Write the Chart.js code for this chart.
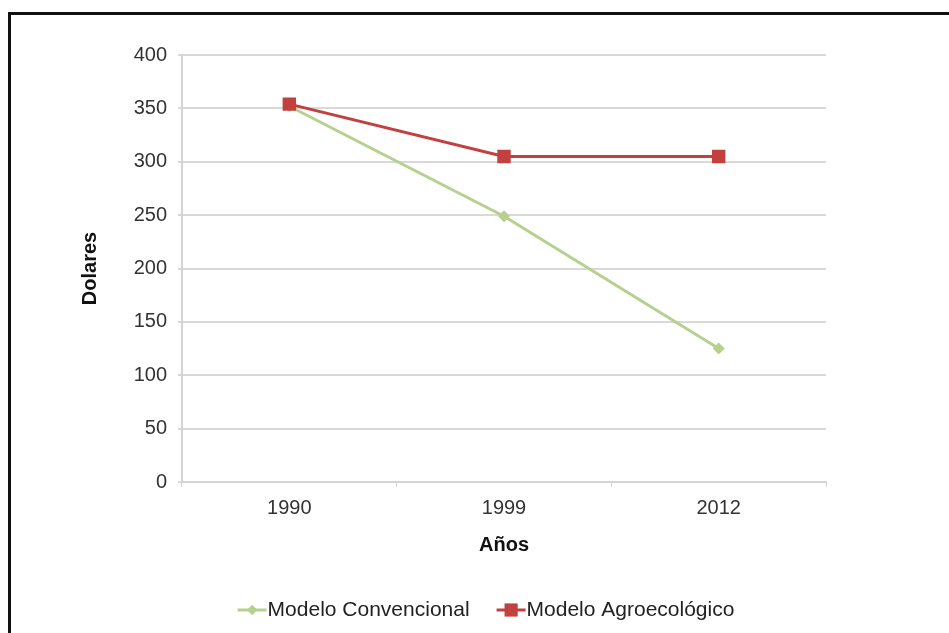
<!DOCTYPE html>
<html>
<head>
<meta charset="utf-8">
<script src="https://cdn.jsdelivr.net/npm/chart.js@4/dist/chart.umd.min.js"></script>
<style>
  html, body { margin: 0; padding: 0; background: #fff; overflow: hidden; }
  #frame {
    position: absolute; left: 8px; top: 12px; width: 960px; height: 700px;
    border-top: 3px solid #111; border-left: 3px solid #111;
  }
  #wrap { position: absolute; left: 0; top: 0; width: 949px; height: 633px; }
</style>
</head>
<body>
<div id="frame"></div>
<div id="wrap"><canvas id="chart" width="949" height="633"></canvas></div>
<script>
// Data
const years = ['1990', '1999', '2012'];
const convencional = [352, 249, 125];
const agroecologico = [354, 305, 305];
const yTicks = [0, 50, 100, 150, 200, 250, 300, 350, 400];

const GREEN = '#b7d090';
const RED = '#c2403d';
const FONT = '"Liberation Sans", Arial, sans-serif';

// Excel-style legend: short line with marker, then the label
const bottomLegend = {
    id: 'bottomLegend',
    afterDraw(chart) {
        const ctx = chart.ctx;
        const items = chart.data.datasets;
        const lineW = 29, gap = 1;
        ctx.save();
        ctx.font = '21px ' + FONT;
        const widths = items.map(d => lineW + gap + ctx.measureText(d.label).width);
        const spacing = 27;
        const total = widths.reduce((a, b) => a + b, 0) + spacing * (items.length - 1);
        let x = 486 - total / 2;
        const y = 610;
        items.forEach((d, i) => {
            ctx.strokeStyle = d.borderColor;
            ctx.lineWidth = 3;
            ctx.beginPath();
            ctx.moveTo(x, y);
            ctx.lineTo(x + lineW, y);
            ctx.stroke();
            ctx.fillStyle = d.borderColor;
            Chart.helpers.drawPoint(ctx, {
                pointStyle: d.pointStyle, radius: d.legendRadius, rotation: 0, borderWidth: 0
            }, x + lineW / 2, y);
            ctx.fill();
            ctx.fillStyle = '#222';
            ctx.textBaseline = 'middle';
            ctx.textAlign = 'left';
            ctx.fillText(d.label, x + lineW + gap, y);
            x += widths[i] + spacing;
        });
        ctx.restore();
    }
};

new Chart(document.getElementById('chart'), {
    type: 'line',
    data: {
        labels: years,
        datasets: [
            {
                label: 'Modelo Convencional',
                data: convencional,
                borderColor: GREEN,
                backgroundColor: GREEN,
                borderWidth: 3,
                pointStyle: 'rectRot',
                pointRadius: 6,
                legendRadius: 5,
                pointBorderWidth: 0,
                tension: 0,
                order: 2
            },
            {
                label: 'Modelo Agroecológico',
                data: agroecologico,
                borderColor: RED,
                backgroundColor: RED,
                borderWidth: 3,
                pointStyle: 'rect',
                pointRadius: 9.5,
                legendRadius: 9,
                pointBorderWidth: 0,
                tension: 0,
                order: 1
            }
        ]
    },
    options: {
        responsive: false,
        animation: false,
        events: [],
        layout: { padding: { left: 78, right: 123, top: 55, bottom: 76 } },
        plugins: {
            legend: { display: false },
            tooltip: { enabled: false }
        },
        scales: {
            x: {
                offset: true,
                afterFit(scale) { scale.height = 75; },
                grid: {
                    offset: true,
                    drawOnChartArea: false,
                    drawTicks: true,
                    tickLength: 5,
                    color: '#d4d4d4',
                    lineWidth: 1
                },
                border: { color: '#d4d4d4', width: 2 },
                ticks: { color: '#333', font: { family: FONT, size: 20 }, padding: 9 },
                title: {
                    display: true,
                    text: 'Años',
                    color: '#111',
                    font: { family: FONT, size: 20, weight: 'bold' },
                    padding: { top: 0, bottom: 0 }
                }
            },
            y: {
                min: 0,
                max: 400,
                afterBuildTicks(scale) {
                    scale.ticks = yTicks.map(v => ({ value: v }));
                },
                afterFit(scale) { scale.width = 104; },
                grid: {
                    color: '#d9d9d9',
                    lineWidth: 2,
                    drawTicks: true,
                    tickLength: 4
                },
                border: { color: '#d4d4d4', width: 2 },
                ticks: { color: '#333', font: { family: FONT, size: 20 }, padding: 11 },
                title: {
                    display: true,
                    text: 'Dolares',
                    color: '#111',
                    font: { family: FONT, size: 20, weight: 'bold' },
                    padding: { top: 0, bottom: 0 }
                }
            }
        }
    },
    plugins: [bottomLegend]
});
</script>
</body>
</html>
